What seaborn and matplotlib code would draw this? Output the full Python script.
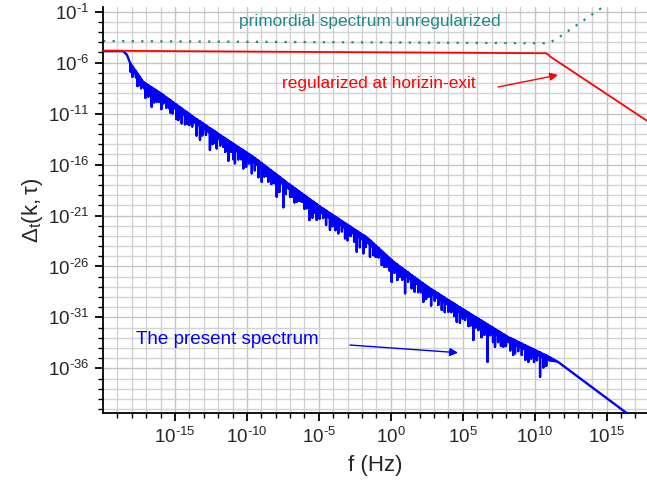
import numpy as np
import pandas as pd
import matplotlib
matplotlib.use("Agg")
import matplotlib.pyplot as plt
import seaborn as sns
from matplotlib.ticker import FixedLocator, FuncFormatter, NullFormatter

# ---------------- data (log10 values) ----------------
# upper envelope of the present (blue) spectrum
env_logf = [-20.0, -18.61, -18.33, -18.12, -17.21, -16.03, -13.73, -11.36, -9.55,
            -7.19, -4.89, -1.62, 0.19, 2.56, 4.86, 8.13, 11.0, 11.62, 16.56, 17.8]
env_logD = [-4.86, -4.86, -5.25, -6.03, -7.90, -8.98, -11.33, -13.59, -15.26,
            -17.81, -20.17, -23.21, -25.56, -28.01, -30.08, -32.92, -34.88, -35.37, -40.57, -41.86]
# lower edge of the solid blue band
band_logf = [-18.12, -17.21, -16.03, -13.73, -11.36, -9.55, -7.19, -4.89, -1.62,
             0.19, 2.56, 4.86, 8.13, 11.0, 11.62]
band_logD = [-6.5, -8.6, -9.6, -11.9, -14.2, -15.9, -18.4, -20.8, -23.8,
             -26.2, -28.6, -30.7, -33.5, -35.3, -35.4]

# large downward spikes of the blue spectrum: position, top, bottom
spike_logf = [-18.08, -17.71, -17.48, -17.20, -16.62, -16.27, -15.81, -15.39, -15.16, -14.77,
              -14.53, -14.00, -13.26, -12.57, -12.10, -11.64, -11.29, -10.83, -10.25, -9.66,
              -8.97, -8.51, -7.93, -7.47, -7.00, -6.54, -6.19, -5.66, -5.15, -4.23,
              -3.65, -3.18, -2.37, -1.91, -1.22, -0.63, -0.29, 0.06, 0.64, 0.99,
              1.45, 2.26, 2.61, 3.54, 4.00, 4.58, 5.16, 5.73, 6.08, 6.72,
              7.24, 7.82, 8.63, 9.56, 10.37]
spike_top = [-6.11, -6.87, -7.34, -7.90, -8.44, -8.76, -9.20, -9.63, -9.87, -10.27,
             -10.51, -11.05, -11.78, -12.44, -12.88, -13.32, -13.65, -14.08, -14.61, -15.16,
             -15.89, -16.38, -17.01, -17.51, -18.00, -18.48, -18.84, -19.38, -19.90, -20.78,
             -21.32, -21.76, -22.51, -22.94, -23.73, -24.49, -24.93, -25.38, -26.03, -26.39,
             -26.87, -27.70, -28.06, -28.89, -29.31, -29.83, -30.34, -30.84, -31.14, -31.70,
             -32.15, -32.65, -33.26, -33.90, -34.45]
spike_bot = [-6.89, -7.44, -8.19, -8.36, -10.32, -9.83, -9.99, -10.48, -10.97, -11.63,
             -11.95, -12.12, -13.55, -14.57, -14.41, -14.25, -15.62, -15.88, -16.37, -16.86,
             -17.68, -17.68, -19.15, -20.19, -19.15, -19.65, -19.65, -21.44, -21.44, -22.42,
             -22.75, -23.24, -24.55, -24.71, -24.88, -25.86, -26.02, -27.50, -27.01, -28.63,
             -28.14, -29.46, -28.97, -30.27, -30.44, -31.42, -31.26, -33.22, -32.24, -35.35,
             -33.87, -33.87, -34.52, -35.35, -36.82]

# small spikes hanging below the band: position and depth below the envelope (decades)
minor_logf = [-17.95, -17.6, -17.35, -17.05, -16.85, -16.45, -16.1, -15.95, -15.6, -15.3,
              -14.9, -14.65, -14.3, -14.15, -13.8, -13.5, -13.1, -12.85, -12.4, -12.25,
              -11.85, -11.5, -11.1, -10.95, -10.6, -10.4, -10.05, -9.85, -9.45, -9.2,
              -8.8, -8.65, -8.3, -8.1, -7.75, -7.3, -6.85, -6.7, -6.35, -6.0,
              -5.85, -5.45, -5.3, -4.95, -4.7, -4.5, -4.05, -3.85, -3.4, -3.0,
              -2.8, -2.55, -2.15, -1.75, -1.45, -1.05, -0.85, -0.45, -0.1, 0.25,
              0.45, 0.8, 1.2, 1.65, 1.9, 2.1, 2.45, 2.8, 3.05, 3.3,
              3.75, 4.2, 4.4, 4.8, 5.0, 5.4, 5.55, 5.9, 6.3, 6.5,
              6.9, 7.1, 7.45, 7.65, 8.0, 8.3, 8.5, 8.85, 9.1, 9.35,
              9.75, 9.95, 10.15, 10.6, 10.8]
minor_depth = [1.0, 1.2, 0.9, 1.4, 1.1, 1.3, 0.9, 1.5, 1.0, 1.2,
               1.4, 0.9, 1.3, 1.1, 1.0, 1.6, 1.2, 0.9, 1.4, 1.1,
               1.0, 1.3, 0.9, 1.5, 1.2, 1.0, 1.4, 0.9, 1.2, 1.6,
               1.1, 0.9, 1.3, 1.0, 1.5, 1.2, 1.0, 1.4, 0.9, 1.3,
               1.1, 1.6, 1.0, 1.2, 0.9, 1.4, 1.1, 1.3, 1.0, 1.5,
               0.9, 1.2, 1.4, 1.0, 1.6, 1.1, 0.9, 1.3, 1.2, 1.0,
               1.5, 1.1, 0.9, 1.4, 1.2, 1.0, 1.3, 1.6, 0.9, 1.1,
               1.4, 1.0, 1.2, 1.5, 0.9, 1.3, 1.1, 1.0, 1.6, 1.2,
               0.9, 1.4, 1.1, 1.3, 1.0, 1.2, 1.5, 0.9, 1.1, 1.4,
               1.0, 1.2, 0.9, 1.3, 1.0]

# regularized at horizon exit (red)
red_logf = [-20.0, 10.78, 10.95, 11.07, 17.9]
red_logD = [-4.83, -5.08, -5.22, -5.40, -11.80]

# primordial spectrum unregularized (teal, dotted)
teal_logf = [-20.0, 10.92, 11.48, 15.5]
teal_logD = [-3.88, -4.10, -3.71, 0.2]

x_major = [-15, -10, -5, 0, 5, 10, 15]
y_major = [-1, -6, -11, -16, -21, -26, -31, -36]

# ---------------- build blue path ----------------
pts = [(x, y, 0) for x, y in zip(env_logf, env_logD)]
for xs, t, b in zip(spike_logf, spike_top, spike_bot):
    pts += [(xs, t, 1), (xs, b, 2), (xs, t, 3)]
minor_top = np.interp(minor_logf, env_logf, env_logD)
for xs, t, dd in zip(minor_logf, minor_top, minor_depth):
    pts += [(xs, t, 1), (xs, t - dd, 2), (xs, t, 3)]
pts.sort(key=lambda p: (p[0], p[2]))
blue = pd.DataFrame({"f": [10.0 ** p[0] for p in pts], "D": [10.0 ** p[1] for p in pts]})
red = pd.DataFrame({"f": 10.0 ** np.array(red_logf), "D": 10.0 ** np.array(red_logD)})
teal = pd.DataFrame({"f": 10.0 ** np.array(teal_logf), "D": 10.0 ** np.array(teal_logD)})
band_top = np.interp(band_logf, env_logf, env_logD)

# ---------------- plot ----------------
sns.set_theme(style="white")
plt.rcParams["font.family"] = ["Liberation Sans", "DejaVu Sans"]
plt.rcParams["mathtext.fontset"] = "custom"
plt.rcParams["mathtext.rm"] = "Liberation Sans"
plt.rcParams["mathtext.it"] = "Liberation Sans:italic"
plt.rcParams["mathtext.default"] = "regular"

fig = plt.figure(figsize=(6.47, 4.87), dpi=100)
ax = fig.add_axes([103 / 647, 1 - 413 / 487, 1 - 103 / 647, (413 - 7) / 487])
ax.set_xscale("log")
ax.set_yscale("log")
ax.set_xlim(10 ** -20.0, 10 ** 17.8)
ax.set_ylim(10 ** -40.38, 10 ** -0.54)

# grid every decade
for d in range(-19, 18):
    ax.axvline(10.0 ** d, color="#c4c4c4" if d % 5 == 0 else "#d2d2d2", lw=1.0, zorder=0)
for d in range(-40, 0):
    ax.axhline(10.0 ** d, color="#c4c4c4" if (d + 1) % 5 == 0 else "#d2d2d2", lw=1.0, zorder=0)

ax.fill_between(10.0 ** np.array(band_logf), 10.0 ** band_top, 10.0 ** np.array(band_logD),
                color="#0000ff", lw=0, zorder=3)
sns.lineplot(data=blue, x="f", y="D", ax=ax, sort=False, estimator=None,
             color="#0000ff", lw=1.7, zorder=3)
sns.lineplot(data=teal, x="f", y="D", ax=ax, sort=False, estimator=None,
             color="#1a8a8a", lw=1.6, zorder=2)
ax.lines[-1].set_linestyle((0, (1, 3.3)))
sns.lineplot(data=red, x="f", y="D", ax=ax, sort=False, estimator=None,
             color="#ff0000", lw=1.3, zorder=4)

# ticks
ax.xaxis.set_major_locator(FixedLocator([10.0 ** v for v in x_major]))
ax.xaxis.set_minor_locator(FixedLocator([10.0 ** v for v in range(-19, 18)]))
ax.yaxis.set_major_locator(FixedLocator([10.0 ** v for v in y_major]))
ax.yaxis.set_minor_locator(FixedLocator([10.0 ** v for v in range(-40, 0)]))


def fmt_fn(v, p):
    e = int(round(np.log10(v)))
    s = ("\u2010%d" % -e) if e < 0 else "%d" % e
    return r"$\mathregular{10^{%s}}$" % s


fmt = FuncFormatter(fmt_fn)
ax.xaxis.set_major_formatter(fmt)
ax.yaxis.set_major_formatter(fmt)
ax.xaxis.set_minor_formatter(NullFormatter())
ax.yaxis.set_minor_formatter(NullFormatter())
ax.tick_params(axis="both", which="major", direction="out", length=6, width=1.3,
               labelsize=13.5, color="black", pad=4)
ax.tick_params(axis="both", which="minor", direction="out", length=3.5, width=1.0, color="black")
ax.tick_params(left=True, bottom=True, which="both")

for s in ["top", "right"]:
    ax.spines[s].set_visible(False)
for s in ["left", "bottom"]:
    ax.spines[s].set_color("black")
    ax.spines[s].set_linewidth(1.3)

ax.set_xlabel("f (Hz)", fontsize=16, labelpad=6)
ax.set_ylabel(r"$\Delta_t(k,\tau)$", fontsize=16, labelpad=2)

# annotations
ax.text(10 ** -1.45, 10 ** -2.0, "primordial spectrum unregularized", color="#1a8a8a",
        fontsize=12.4, ha="center", va="center", zorder=5)
ax.text(10 ** -0.82, 10 ** -8.0, "regularized at horizin-exit", color="#ff0000",
        fontsize=12.4, ha="center", va="center", zorder=5)
ax.text(10 ** -11.35, 10 ** -33.2, "The present spectrum", color="#0000ff",
        fontsize=13.6, ha="center", va="center", zorder=5)
ax.annotate("", xy=(10 ** 11.62, 10 ** -7.21), xytext=(10 ** 7.45, 10 ** -8.39),
            arrowprops=dict(arrowstyle="-|>", color="#ff0000", lw=1.0,
                            mutation_scale=12, shrinkA=0, shrinkB=0), zorder=5)
ax.annotate("", xy=(10 ** 4.67, 10 ** -34.46), xytext=(10 ** -2.84, 10 ** -33.71),
            arrowprops=dict(arrowstyle="-|>", color="#0000ff", lw=1.0,
                            mutation_scale=12, shrinkA=0, shrinkB=0), zorder=5)

fig.savefig("out.png", dpi=100)
